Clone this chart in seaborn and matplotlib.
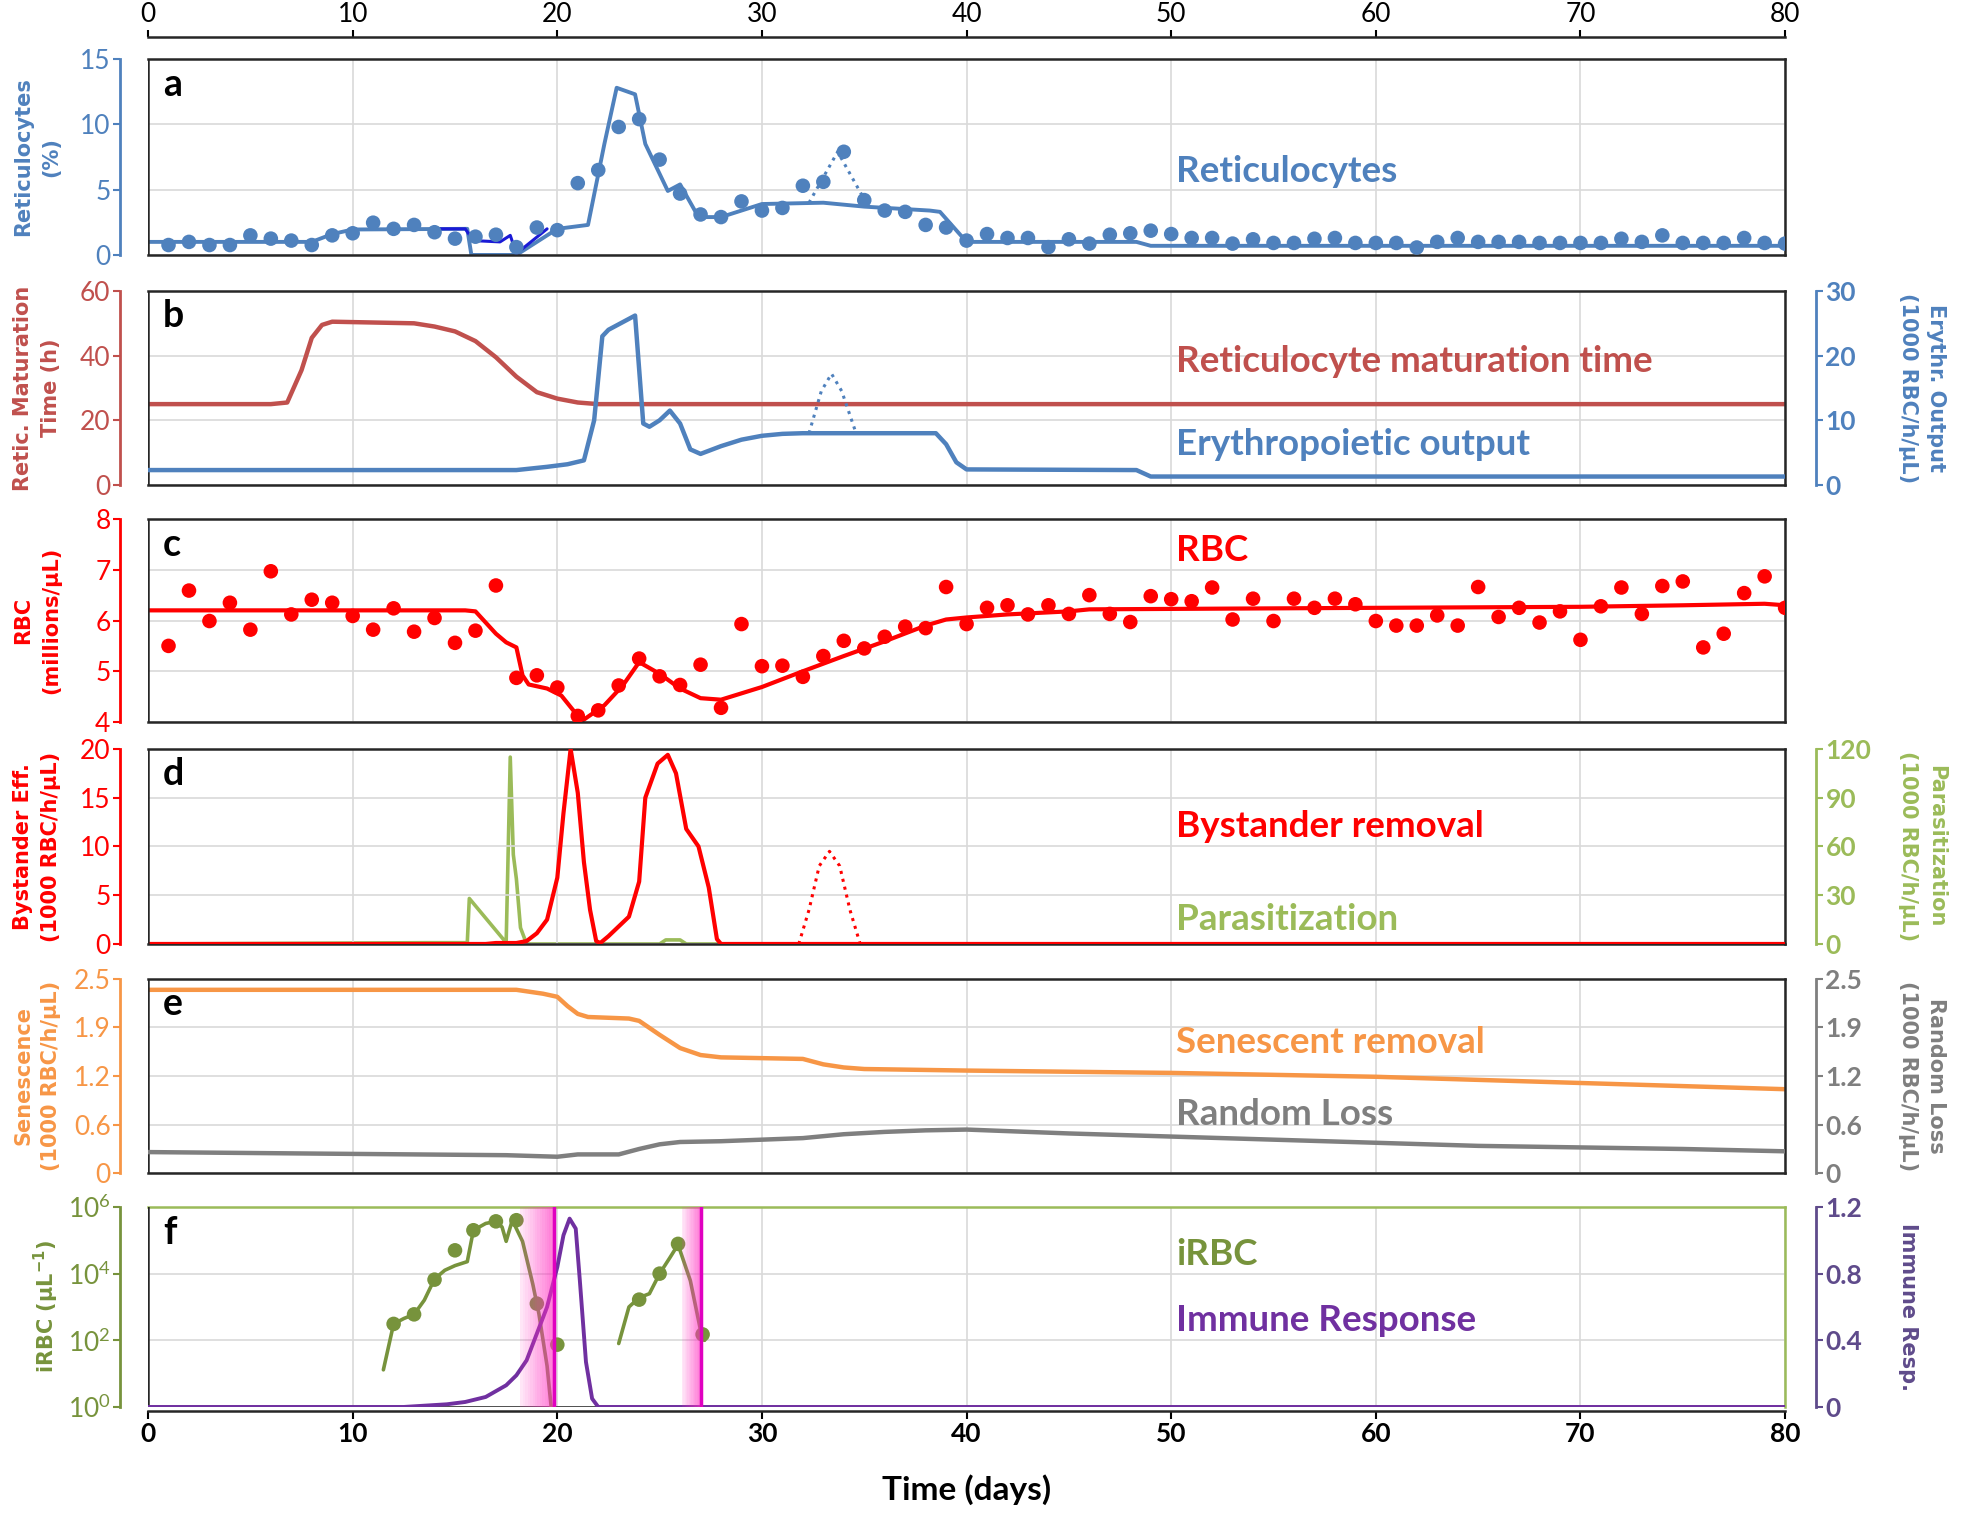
import matplotlib
matplotlib.use("Agg")
import matplotlib.pyplot as plt
import seaborn as sns
from matplotlib import font_manager

# -----------------------------------------------------------------------------
# Data (time in days)
# -----------------------------------------------------------------------------
days = list(range(1, 81))

# a. Reticulocytes (%)
retic_obs = [0.76, 1.0, 0.76, 0.76, 1.5, 1.25, 1.1, 0.76, 1.5, 1.66,
             2.47, 2.0, 2.3, 1.74, 1.25, 1.4, 1.55, 0.6, 2.1, 1.9,
             5.5, 6.5, 9.8, 10.4, 7.3, 4.7, 3.1, 2.9, 4.1, 3.4,
             3.6, 5.3, 5.6, 7.9, 4.2, 3.4, 3.3, 2.3, 2.1, 1.1,
             1.6, 1.3, 1.3, 0.6, 1.2, 0.87, 1.55, 1.66, 1.86, 1.6,
             1.3, 1.3, 0.87, 1.2, 0.92, 0.92, 1.24, 1.3, 0.92, 0.92,
             0.92, 0.57, 1.0, 1.3, 1.0, 1.0, 1.0, 0.92, 0.92, 0.92,
             0.92, 1.24, 1.0, 1.5, 0.92, 0.92, 0.92, 1.3, 0.92, 0.87]
retic_t = [0, 8, 9, 10, 15.6, 15.8, 18.0, 20.0, 21.5, 22.3, 22.9, 23.8, 24.3,
           25.4, 26.0, 26.9, 28.0, 30.0, 33.0, 35.0, 38.2, 38.7, 40.0, 48.3, 49.0, 80]
retic_fit = [1.0, 1.0, 1.6, 1.95, 2.0, 0.0, 0.0, 2.0, 2.3, 8.5, 12.8, 12.3, 8.5,
             4.9, 5.4, 2.9, 2.9, 3.9, 4.0, 3.7, 3.4, 3.3, 1.0, 1.0, 0.7, 0.7]
retic_alt_t = [14.0, 15.5, 15.9, 17.2, 17.7, 18.0, 19.5]
retic_alt = [2.0, 2.0, 1.1, 1.0, 1.5, 0.1, 2.0]
retic_dot_t = [32.3, 33.7, 35.2]
retic_dot = [4.0, 7.9, 3.7]

# b. Maturation time (h) and erythropoietic output
mat_t = [0, 6.0, 6.8, 7.5, 8.0, 8.5, 9.0, 13.0, 14.0, 15.0, 16.0, 17.0, 18.0,
         19.0, 20.0, 21.0, 22.0, 80]
mat_h = [25, 25, 25.5, 35.5, 45.5, 49.5, 50.5, 50.0, 49.0, 47.5, 44.5, 39.5, 33.5,
         28.7, 26.7, 25.5, 25.0, 25.0]
ery_t = [0, 18.0, 19.5, 20.5, 21.3, 21.8, 22.2, 22.5, 23.8, 24.2, 24.5, 25.0, 25.5,
         26.0, 26.5, 27.0, 28.0, 29.0, 30.0, 31.0, 32.0, 38.5, 39.0, 39.5, 40.0,
         48.3, 49.0, 80]
ery_out = [2.3, 2.3, 2.8, 3.2, 3.8, 10.0, 23.0, 24.0, 26.2, 9.5, 9.0, 10.0, 11.5,
           9.5, 5.5, 4.8, 6.0, 7.0, 7.6, 7.9, 8.0, 8.0, 6.3, 3.5, 2.4,
           2.3, 1.3, 1.3]
ery_dot_t = [32.3, 32.9, 33.4, 33.9, 34.6]
ery_dot = [8.0, 14.5, 17.2, 14.5, 8.0]

# c. RBC (millions/uL)
rbc_obs = [5.5, 6.59, 5.99, 6.35, 5.82, 6.97, 6.12, 6.41, 6.35, 6.09,
           5.82, 6.24, 5.78, 6.05, 5.56, 5.8, 6.69, 4.87, 4.92, 4.68,
           4.12, 4.23, 4.72, 5.25, 4.9, 4.73, 5.13, 4.28, 5.93, 5.1,
           5.11, 4.89, 5.3, 5.6, 5.45, 5.68, 5.88, 5.85, 6.66, 5.93,
           6.25, 6.3, 6.12, 6.3, 6.13, 6.5, 6.13, 5.97, 6.48, 6.42,
           6.38, 6.65, 6.02, 6.43, 5.99, 6.43, 6.25, 6.43, 6.32, 5.99,
           5.9, 5.9, 6.1, 5.9, 6.66, 6.07, 6.25, 5.96, 6.18, 5.62,
           6.28, 6.65, 6.13, 6.68, 6.77, 5.47, 5.74, 6.54, 6.87, 6.25]
rbc_t = [0, 15.5, 16.0, 17.0, 17.5, 18.0, 18.3, 18.6, 19.5, 20.2, 21.2, 22.3, 23.2,
         24.0, 25.0, 26.0, 27.0, 28.0, 30.0, 32.0, 34.0, 36.0, 38.0, 39.0, 40.0,
         42.0, 45.0, 46.0, 60.0, 70.0, 75.0, 79.0, 80.0]
rbc_fit = [6.2, 6.2, 6.18, 5.74, 5.57, 5.47, 4.92, 4.74, 4.66, 4.52, 4.02, 4.33, 4.72,
           5.18, 4.95, 4.66, 4.47, 4.44, 4.69, 5.0, 5.3, 5.59, 5.9, 6.02, 6.06,
           6.12, 6.18, 6.22, 6.25, 6.27, 6.3, 6.33, 6.3]

# d. Bystander removal and parasitization
by_t = [0, 16.5, 17.0, 18.0, 18.5, 19.0, 19.5, 20.0, 20.3, 20.65, 21.0, 21.3, 21.6,
        21.9, 22.1, 22.5, 23.0, 23.5, 24.0, 24.3, 24.9, 25.4, 25.8, 26.3, 26.9,
        27.4, 27.8, 28.0, 80]
by_rate = [0, 0, 0.1, 0.1, 0.3, 1.1, 2.5, 6.8, 13.4, 20.0, 15.5, 8.4, 3.5,
           0.3, 0.1, 0.8, 1.8, 2.8, 6.4, 15.0, 18.5, 19.4, 17.5, 11.8, 10.0,
           5.8, 0.5, 0.0, 0.0]
by_dot_t = [31.8, 32.3, 32.8, 33.3, 33.8, 34.3, 34.8]
by_dot = [0, 3.5, 8.0, 9.5, 8.0, 3.5, 0]
par_t = [0, 13.6, 15.6, 15.7, 17.5, 17.7, 17.85, 18.0, 18.2, 18.5, 25.0, 25.3,
         26.0, 26.3, 80]
par_rate = [0, 0.8, 0.8, 28, 0.8, 115, 55, 40, 10, 0, 0, 2.5, 2.5, 0, 0]

# e. Senescent removal and random loss
sen_t = [0, 18.0, 19.3, 20.0, 20.5, 21.0, 21.5, 23.5, 24.0, 25.0, 26.0, 27.0, 28.0,
         32.0, 33.0, 34.0, 35.0, 40.0, 50.0, 60.0, 70.0, 80.0]
sen_rate = [2.36, 2.36, 2.31, 2.27, 2.15, 2.05, 2.01, 1.99, 1.96, 1.78, 1.61, 1.52, 1.49,
            1.47, 1.40, 1.36, 1.34, 1.32, 1.29, 1.24, 1.16, 1.08]
rnd_t = [0, 8.5, 17.5, 20.0, 21.0, 23.0, 24.0, 25.0, 26.0, 28.0, 30.0, 32.0, 34.0,
         36.0, 38.0, 40.0, 45.0, 50.0, 55.0, 60.0, 65.0, 70.0, 75.0, 80.0]
rnd_rate = [0.27, 0.25, 0.23, 0.21, 0.24, 0.24, 0.31, 0.37, 0.40, 0.41, 0.43, 0.45, 0.50,
            0.53, 0.55, 0.56, 0.51, 0.47, 0.43, 0.39, 0.35, 0.33, 0.31, 0.28]

# f. iRBC (per uL, log) and immune response
irbc1_t = [11.5, 12.0, 12.5, 13.0, 13.5, 14.0, 14.5, 15.0, 15.6, 15.9, 16.5, 17.0,
           17.3, 17.5, 17.8, 18.3, 18.8, 19.1, 19.5, 19.7]
irbc1 = [13, 310, 450, 600, 1600, 6900, 12600, 17400, 22900, 2.0e5, 3.2e5, 3.7e5,
         2.5e5, 9.3e4, 4.0e5, 9.3e4, 4900, 630, 17, 1]
irbc2_t = [23.0, 23.5, 24.0, 24.5, 25.0, 25.5, 25.9, 26.5, 27.0, 27.2]
irbc2 = [80, 1000, 1900, 2500, 1.0e4, 3.0e4, 7.4e4, 6200, 200, 100]
irbc_obs_t = [12, 13, 14, 15, 15.9, 17, 18, 19, 20, 24, 25, 25.9, 27.1]
irbc_obs = [310, 600, 6600, 5.0e4, 2.0e5, 3.7e5, 4.0e5, 1260, 74, 1660, 1.0e4, 7.8e4, 150]
imm_t = [0, 12.5, 14.6, 15.5, 16.5, 17.5, 18.0, 18.5, 19.0, 19.5, 20.0, 20.3, 20.6,
         20.9, 21.1, 21.4, 21.7, 22.0, 80]
imm_resp = [0, 0, 0.016, 0.03, 0.06, 0.13, 0.19, 0.28, 0.44, 0.6, 0.84, 1.03, 1.13,
            1.07, 0.76, 0.27, 0.05, 0, 0]
band_start = [18.2, 26.1]
band_end = [19.85, 27.0]

# -----------------------------------------------------------------------------
# Colours and fonts
# -----------------------------------------------------------------------------
BLUE = "#4f81bd"
DBLUE = "#1a1ad6"
BRICK = "#c0504d"
RED = "#ff0000"
LGREEN = "#9bbb59"
ORANGE = "#f79646"
GREY = "#7f7f7f"
OLIVE = "#77933c"
PURPLE = "#7030a0"
DPURPLE = "#5f4b8b"
FRAME = "#262626"

sns.set_theme(style="white")
installed = {f.name for f in font_manager.fontManager.ttflist}
MAIN = "Lato" if "Lato" in installed else "DejaVu Sans"
plt.rcParams["font.family"] = [MAIN, "DejaVu Sans"]
plt.rcParams["mathtext.default"] = "regular"
LABFONT = "DejaVu Sans"
TICK = 19
LAB = 15
TAG = 26.5

fig = plt.figure(figsize=(19.61, 15.14), dpi=100)
LEFT, WIDTH = 0.0755, 0.8348
rows = [(0.8316, 0.1294), (0.6797, 0.1281), (0.5231, 0.1341),
        (0.3765, 0.1288), (0.2252, 0.1282), (0.0707, 0.1321)]
axes = [fig.add_axes([LEFT, b, WIDTH, h]) for b, h in rows]


def style_left(ax, color, ylim, ticks, labels, ylabel, letter):
    ax.set_xlim(0, 80)
    ax.set_xticks(range(0, 81, 10))
    ax.set_ylim(*ylim)
    ax.set_yticks(ticks)
    ax.set_yticklabels(labels, fontweight="bold")
    ax.grid(True, color="#d9d9d9", lw=1.2)
    ax.set_axisbelow(True)
    ax.spines["left"].set_position(("outward", 20))
    ax.spines["left"].set_color(color)
    ax.spines["left"].set_linewidth(2)
    for s in ("top", "right", "bottom"):
        ax.spines[s].set_color(FRAME)
        ax.spines[s].set_linewidth(1.8)
    ax.axvline(0, color=FRAME, lw=1.8, zorder=5)
    ax.tick_params(axis="y", colors=color, labelsize=TICK, length=5, width=1.5,
                   direction="out", left=True, pad=2)
    ax.tick_params(axis="x", length=0, labelbottom=False)
    ax.set_ylabel(ylabel, color=color, fontsize=LAB, fontweight="bold",
                  family=LABFONT, linespacing=1.5)
    ax.yaxis.set_label_coords(-0.053, 0.5)
    ax.text(0.009, 0.87, letter, transform=ax.transAxes, fontsize=27,
            fontweight="bold", color="black", va="center", ha="left")


def style_right(ax, color, ylim, ticks, labels, ylabel):
    tw = ax.twinx()
    for s in ("top", "left", "bottom"):
        tw.spines[s].set_visible(False)
    tw.spines["right"].set_position(("outward", 22))
    tw.spines["right"].set_color(color)
    tw.spines["right"].set_linewidth(2)
    tw.set_ylim(*ylim)
    tw.set_yticks(ticks)
    tw.set_yticklabels(labels, fontweight="bold")
    tw.tick_params(axis="y", colors=color, labelsize=TICK, length=5, width=1.5,
                   direction="out", right=True, pad=2)
    tw.set_ylabel(ylabel, color=color, fontsize=LAB, fontweight="bold",
                  family=LABFONT, rotation=270, va="bottom", linespacing=1.5)
    tw.yaxis.set_label_coords(1.069, 0.5)
    return tw


def tag(ax, y, text, color):
    ax.text(0.628, y, text, transform=ax.transAxes, fontsize=TAG,
            fontweight="bold", color=color, va="center", ha="left")


def line(ax, x, y, color, lw=2.5, ls="-", z=2):
    sns.lineplot(x=x, y=y, ax=ax, color=color, lw=lw, linestyle=ls,
                 estimator=None, sort=False, zorder=z)


# -----------------------------------------------------------------------------
# a. Reticulocytes
# -----------------------------------------------------------------------------
ax = axes[0]
style_left(ax, BLUE, (0, 15), [0, 5, 10, 15], ["0", "5", "10", "15"],
           "Reticulocytes\n(%)", "a")
line(ax, retic_t, retic_fit, BLUE, lw=2.8)
line(ax, retic_alt_t, retic_alt, DBLUE, lw=2.2)
line(ax, retic_dot_t, retic_dot, BLUE, lw=2.2, ls=":")
sns.scatterplot(x=days, y=retic_obs, ax=ax, color=BLUE, s=110, edgecolor="none", zorder=3)
tag(ax, 0.427, "Reticulocytes", BLUE)
top = ax.secondary_xaxis("top")
top.set_xticks(range(0, 81, 10))
top.set_xticklabels([str(v) for v in range(0, 81, 10)], fontweight="bold")
top.tick_params(labelsize=TICK, length=5, width=1.5, colors="black", pad=2)
top.spines["top"].set_position(("outward", 16))
top.spines["top"].set_linewidth(1.8)
top.spines["top"].set_color(FRAME)

# -----------------------------------------------------------------------------
# b. Maturation time and erythropoietic output
# -----------------------------------------------------------------------------
ax = axes[1]
style_left(ax, BRICK, (0, 60), [0, 20, 40, 60], ["0", "20", "40", "60"],
           "Retic. Maturation\nTime (h)", "b")
tw = style_right(ax, BLUE, (0, 30), [0, 10, 20, 30], ["0", "10", "20", "30"],
                 "Erythr. Output\n(1000 RBC/h/μL)")
line(ax, mat_t, mat_h, BRICK, lw=3.2)
line(tw, ery_t, ery_out, BLUE, lw=3.2)
line(tw, ery_dot_t, ery_dot, BLUE, lw=2.2, ls=":")
tag(ax, 0.639, "Reticulocyte maturation time", BRICK)
tag(ax, 0.206, "Erythropoietic output", BLUE)

# -----------------------------------------------------------------------------
# c. RBC
# -----------------------------------------------------------------------------
ax = axes[2]
style_left(ax, RED, (4, 8), [4, 5, 6, 7, 8], ["4", "5", "6", "7", "8"],
           "RBC\n(millions/μL)", "c")
line(ax, rbc_t, rbc_fit, RED, lw=3)
sns.scatterplot(x=days, y=rbc_obs, ax=ax, color=RED, s=110, edgecolor="none", zorder=3)
tag(ax, 0.846, "RBC", RED)

# -----------------------------------------------------------------------------
# d. Bystander removal and parasitization
# -----------------------------------------------------------------------------
ax = axes[3]
style_left(ax, RED, (0, 20), [0, 5, 10, 15, 20], ["0", "5", "10", "15", "20"],
           "Bystander Eff.\n(1000 RBC/h/μL)", "d")
tw = style_right(ax, LGREEN, (0, 120), [0, 30, 60, 90, 120],
                 ["0", "30", "60", "90", "120"], "Parasitization\n(1000 RBC/h/μL)")
line(tw, par_t, par_rate, LGREEN, lw=2.6, z=2)
line(ax, by_t, by_rate, RED, lw=3, z=3)
line(ax, by_dot_t, by_dot, RED, lw=2.2, ls=":")
ax.set_zorder(tw.get_zorder() + 1)
ax.patch.set_visible(False)
tag(ax, 0.603, "Bystander removal", RED)
tag(ax, 0.128, "Parasitization", LGREEN)

# -----------------------------------------------------------------------------
# e. Senescent removal and random loss
# -----------------------------------------------------------------------------
ax = axes[4]
eticks = [0, 0.625, 1.25, 1.875, 2.5]
elabels = ["0", "0.6", "1.2", "1.9", "2.5"]
style_left(ax, ORANGE, (0, 2.5), eticks, elabels,
           "Senescence\n(1000 RBC/h/μL)", "e")
tw = style_right(ax, GREY, (0, 2.5), eticks, elabels,
                 "Random Loss\n(1000 RBC/h/μL)")
line(ax, sen_t, sen_rate, ORANGE, lw=3.2)
line(tw, rnd_t, rnd_rate, GREY, lw=3.2)
tag(ax, 0.671, "Senescent removal", ORANGE)
tag(ax, 0.303, "Random Loss", GREY)

# -----------------------------------------------------------------------------
# f. iRBC and immune response
# -----------------------------------------------------------------------------
ax = axes[5]
ax.set_yscale("log")
style_left(ax, OLIVE, (1, 1e6), [1, 1e2, 1e4, 1e6],
           ["10$^{0}$", "10$^{2}$", "10$^{4}$", "10$^{6}$"], "iRBC (μL$^{-1}$)", "f")
ax.minorticks_off()
ax.spines["top"].set_color(LGREEN)
ax.spines["right"].set_color(LGREEN)
ax.spines["bottom"].set_position(("outward", 3))
ax.axhline(1, color=FRAME, lw=1.8, zorder=1)
ax.tick_params(axis="x", length=6, width=1.5, labelbottom=True, labelsize=TICK,
               colors="black", direction="out", bottom=True, pad=2)
ax.set_xticklabels([str(v) for v in range(0, 81, 10)], fontweight="bold")
ax.set_xlabel("Time (days)", fontsize=24, fontweight="bold", color="black",
              labelpad=20)
tw = style_right(ax, DPURPLE, (0, 1.2), [0, 0.4, 0.8, 1.2],
                 ["0", "0.4", "0.8", "1.2"], "Immune Resp.")
line(ax, irbc1_t, irbc1, OLIVE, lw=2.6)
line(ax, irbc2_t, irbc2, OLIVE, lw=2.6)
sns.scatterplot(x=irbc_obs_t, y=irbc_obs, ax=ax, color=OLIVE, s=110,
                edgecolor="none", zorder=3)
line(tw, imm_t, imm_resp, PURPLE, lw=2.8)
for x0, x1 in zip(band_start, band_end):
    n = 14
    for i in range(n):
        a = x0 + (x1 - x0) * i / n
        b = x0 + (x1 - x0) * (i + 1) / n
        tw.axvspan(a, b, color="#ff2fc0", alpha=0.08 + 0.55 * (i + 1) / n, lw=0, zorder=4)
    tw.axvline(x1, color="#e000c0", lw=2.5, zorder=4)
tag(ax, 0.7625, "iRBC", OLIVE)
tag(ax, 0.431, "Immune Response", PURPLE)

fig.savefig("out.png", dpi=100)
